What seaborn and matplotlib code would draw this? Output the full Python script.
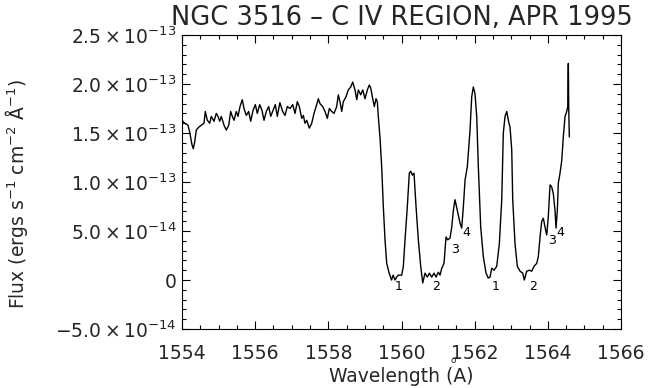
import numpy as np
import pandas as pd
import matplotlib
matplotlib.use("Agg")
import matplotlib.pyplot as plt
from matplotlib.ticker import MultipleLocator, FixedLocator, FixedFormatter
import seaborn as sns

# ---------------- data ----------------
wavelength = [
    1554.000, 1554.074, 1554.164, 1554.210, 1554.273, 1554.309, 1554.347, 1554.391,
    1554.457, 1554.528, 1554.601, 1554.637, 1554.692, 1554.757, 1554.801, 1554.875,
    1554.938, 1554.984, 1555.031, 1555.074, 1555.148, 1555.211, 1555.277, 1555.331,
    1555.375, 1555.422, 1555.484, 1555.531, 1555.586, 1555.648, 1555.695, 1555.758,
    1555.823, 1555.878, 1555.941, 1556.004, 1556.058, 1556.124, 1556.187, 1556.242,
    1556.304, 1556.370, 1556.425, 1556.488, 1556.550, 1556.605, 1556.675, 1556.753,
    1556.816, 1556.879, 1556.952, 1557.026, 1557.089, 1557.152, 1557.207, 1557.272,
    1557.316, 1557.362, 1557.409, 1557.480, 1557.546, 1557.608, 1557.682, 1557.726,
    1557.772, 1557.846, 1557.909, 1557.972, 1558.027, 1558.092, 1558.155, 1558.229,
    1558.273, 1558.319, 1558.366, 1558.409, 1558.483, 1558.546, 1558.612, 1558.667,
    1558.729, 1558.776, 1558.820, 1558.885, 1558.940, 1559.003, 1559.066, 1559.120,
    1559.159, 1559.213, 1559.257, 1559.303, 1559.339, 1559.366, 1559.413, 1559.459,
    1559.503, 1559.549, 1559.596, 1559.662, 1559.728, 1559.771, 1559.823, 1559.868,
    1559.913, 1560.006, 1560.050, 1560.096, 1560.159, 1560.214, 1560.252, 1560.296,
    1560.342, 1560.397, 1560.460, 1560.525, 1560.580, 1560.643, 1560.706, 1560.761,
    1560.826, 1560.889, 1560.944, 1561.007, 1561.053, 1561.100, 1561.162, 1561.217,
    1561.264, 1561.327, 1561.373, 1561.417, 1561.462, 1561.526, 1561.600, 1561.646,
    1561.691, 1561.737, 1561.800, 1561.855, 1561.873, 1561.919, 1561.963, 1562.009,
    1562.056, 1562.100, 1562.165, 1562.236, 1562.310, 1562.373, 1562.420, 1562.466,
    1562.529, 1562.603, 1562.674, 1562.740, 1562.783, 1562.830, 1562.876, 1562.920,
    1562.966, 1563.013, 1563.040, 1563.103, 1563.166, 1563.240, 1563.314, 1563.357,
    1563.423, 1563.494, 1563.559, 1563.622, 1563.696, 1563.740, 1563.787, 1563.833,
    1563.877, 1563.923, 1563.970, 1564.013, 1564.060, 1564.106, 1564.150, 1564.196,
    1564.224, 1564.259, 1564.287, 1564.333, 1564.380, 1564.423, 1564.470, 1564.517,
    1564.544, 1564.560, 1564.571, 1564.587,
]
# flux in units of 1e-13 erg s^-1 cm^-2 A^-1
flux_e13 = [
    1.63, 1.60, 1.58, 1.51, 1.38, 1.34, 1.41, 1.53,
    1.56, 1.58, 1.60, 1.72, 1.63, 1.60, 1.67, 1.62,
    1.70, 1.67, 1.62, 1.67, 1.58, 1.53, 1.58, 1.72,
    1.67, 1.63, 1.72, 1.67, 1.77, 1.84, 1.75, 1.68,
    1.72, 1.62, 1.73, 1.79, 1.70, 1.79, 1.73, 1.63,
    1.72, 1.77, 1.67, 1.73, 1.79, 1.67, 1.81, 1.72,
    1.68, 1.77, 1.75, 1.79, 1.70, 1.82, 1.77, 1.65,
    1.68, 1.60, 1.63, 1.55, 1.60, 1.70, 1.79, 1.85,
    1.80, 1.77, 1.72, 1.65, 1.75, 1.72, 1.70, 1.77,
    1.89, 1.82, 1.72, 1.82, 1.87, 1.94, 1.97, 2.02,
    1.94, 1.84, 1.94, 1.89, 1.94, 1.85, 1.94, 1.99,
    1.96, 1.85, 1.77, 1.85, 1.82, 1.67, 1.45, 1.15,
    0.75, 0.41, 0.17, 0.07, 0.00, 0.05, 0.00, 0.03,
    0.05, 0.05, 0.14, 0.41, 0.75, 1.09, 1.11, 1.07,
    1.09, 0.75, 0.41, 0.14, -0.03, 0.07, 0.03, 0.07,
    0.03, 0.07, 0.03, 0.08, 0.05, 0.12, 0.17, 0.44,
    0.41, 0.43, 0.54, 0.71, 0.82, 0.71, 0.58, 0.53,
    0.75, 1.02, 1.16, 1.43, 1.53, 1.87, 1.97, 1.90,
    1.67, 1.16, 0.54, 0.24, 0.07, 0.02, 0.03, 0.12,
    0.10, 0.14, 0.37, 0.82, 1.50, 1.67, 1.72, 1.63,
    1.56, 1.33, 0.82, 0.37, 0.14, 0.09, 0.07, 0.00,
    0.09, 0.10, 0.09, 0.14, 0.17, 0.24, 0.44, 0.60,
    0.63, 0.54, 0.46, 0.65, 0.97, 0.95, 0.88, 0.71,
    0.53, 0.71, 0.99, 1.09, 1.22, 1.46, 1.67, 1.72,
    1.77, 2.21, 1.75, 1.46,
]

line_ids = ["1", "2", "3", "4", "1", "2", "3", "4"]
line_id_wave = [1559.93, 1560.94, 1561.46, 1561.76, 1562.56, 1563.60, 1564.11, 1564.33]
line_id_flux_e13 = [-0.07, -0.07, 0.31, 0.48, -0.07, -0.07, 0.40, 0.48]

ytick_vals = [-5e-14, 0, 5e-14, 1e-13, 1.5e-13, 2e-13, 2.5e-13]
ytick_labels = [r"$-5.0\times10^{-14}$", "0", r"$5.0\times10^{-14}$",
                r"$1.0\times10^{-13}$", r"$1.5\times10^{-13}$",
                r"$2.0\times10^{-13}$", r"$2.5\times10^{-13}$"]
xtick_vals = [1554, 1556, 1558, 1560, 1562, 1564, 1566]

title = "NGC 3516 \u2013 C IV REGION, APR 1995"

# ---------------- plot ----------------
sns.set_style("ticks")
plt.rcParams["font.family"] = ["DejaVu Sans"]
plt.rcParams["mathtext.fontset"] = "dejavusans"

df = pd.DataFrame({"wavelength": wavelength,
                   "flux": np.array(flux_e13) * 1e-13})

fig = plt.figure(figsize=(6.5, 3.88), dpi=100)
ax = fig.add_axes([0.28, 0.152, 0.6754, 0.7577])

sns.lineplot(data=df, x="wavelength", y="flux", ax=ax, color="black",
             linewidth=1.0, estimator=None, sort=False)

for t, xw, yf in zip(line_ids, line_id_wave, line_id_flux_e13):
    ax.text(xw, yf * 1e-13, t, fontsize=9, ha="center", va="center", color="black")

ax.set_xlim(1554, 1566)
ax.set_ylim(-5e-14, 2.5e-13)
ax.xaxis.set_major_locator(FixedLocator(xtick_vals))
ax.xaxis.set_minor_locator(MultipleLocator(0.5))
ax.yaxis.set_major_locator(FixedLocator(ytick_vals))
ax.yaxis.set_major_formatter(FixedFormatter(ytick_labels))
ax.yaxis.set_minor_locator(MultipleLocator(1e-14))

ax.tick_params(axis="both", which="both", direction="in", top=True, right=True,
               color="black", width=0.8)
ax.tick_params(axis="both", which="major", length=5.5, labelsize=13.5)
ax.tick_params(axis="both", which="minor", length=3)
ax.tick_params(axis="x", which="major", pad=11)
ax.tick_params(axis="y", which="major", pad=4)
for s in ax.spines.values():
    s.set_linewidth(0.8)
    s.set_color("black")

ax.set_xlabel("Wavelength (A)", fontsize=13.5, labelpad=3)
ax.set_ylabel("Flux (ergs s$^{-1}$ cm$^{-2}$ \u00c5$^{-1}$)", fontsize=13.5)
ax.yaxis.set_label_coords(-0.346, 0.46)
ax.set_title(title, fontsize=18.5, pad=7)
# the misplaced angstrom ring of the original x label (sits under the "1" of 1562)
fig.text(0.698, 0.070, "o", fontsize=6.5, ha="center", va="center")

fig.savefig("out.png", dpi=100)
